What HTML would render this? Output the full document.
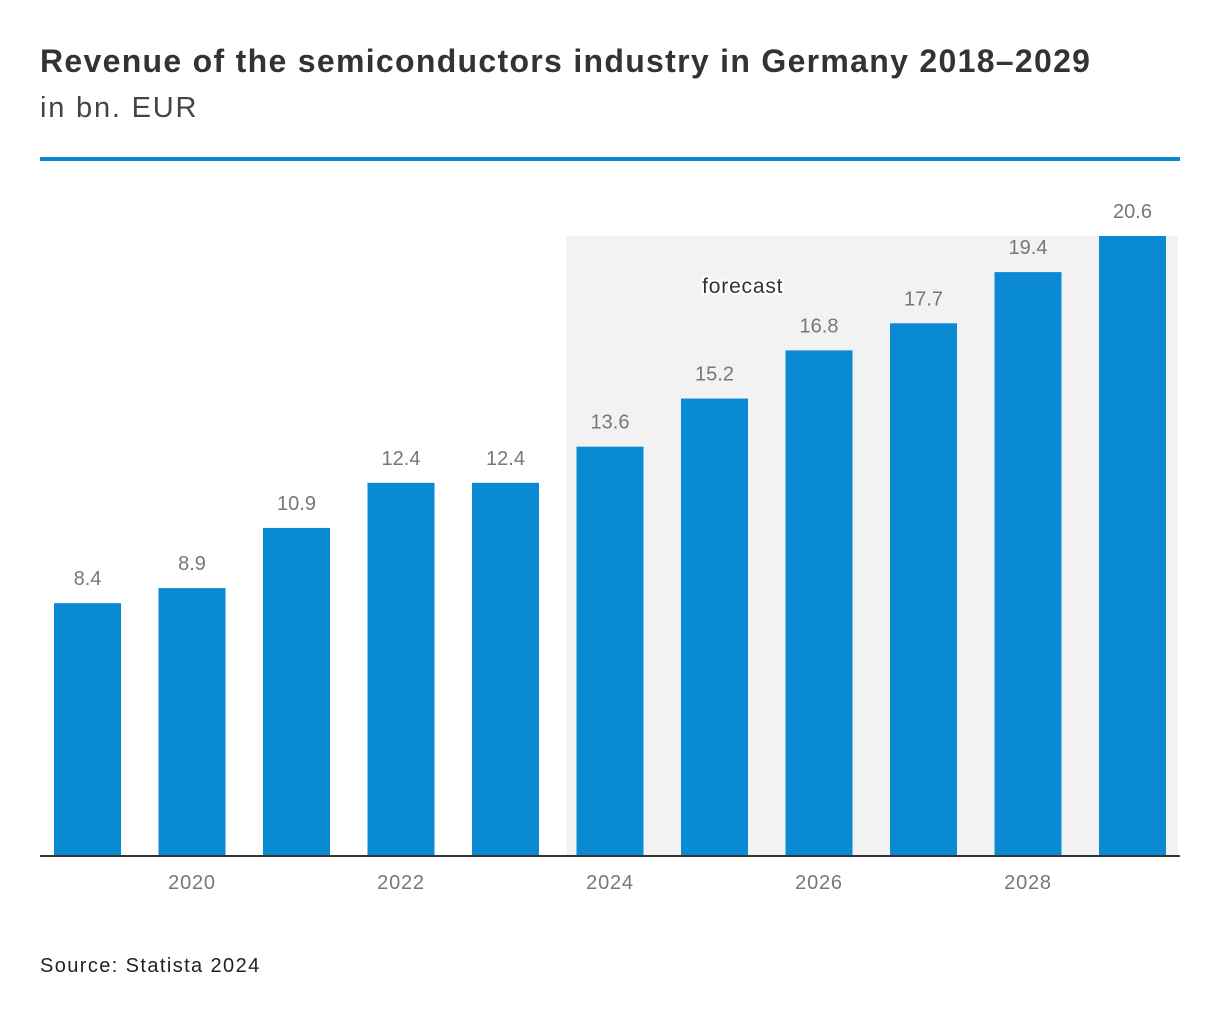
<!DOCTYPE html>
<html>
<head>
<meta charset="utf-8">
<style>
  html,body{margin:0;padding:0;background:#fff;}
  body{width:1220px;height:1022px;position:relative;overflow:hidden;font-family:"Liberation Sans",sans-serif;}
  .title{position:absolute;left:40px;top:43px;font-size:32px;letter-spacing:1.3px;font-weight:bold;color:#333;white-space:nowrap;}
  .subtitle{position:absolute;left:40px;top:92px;font-size:29px;letter-spacing:1.8px;color:#444;}
  .rule{position:absolute;left:40px;top:157px;width:1140px;height:4px;background:#0a87cf;}
  .source{position:absolute;left:40px;top:955px;font-size:20px;letter-spacing:1.4px;color:#222;}
  svg{position:absolute;left:0;top:0;}
</style>
</head>
<body>
<div class="title">Revenue of the semiconductors industry in Germany 2018–2029</div>
<div class="subtitle">in bn. EUR</div>
<div class="rule"></div>
<svg id="chart" width="1220" height="1022"></svg>
<div class="source">Source: Statista 2024</div>
<script>
const years = [2019,2020,2021,2022,2023,2024,2025,2026,2027,2028,2029];
const values = [8.4,8.9,10.9,12.4,12.4,13.6,15.2,16.8,17.7,19.4,20.6];
const tickYears = [2020,2022,2024,2026,2028];
const forecastStart = 2024;

const svg = document.getElementById('chart');
const NS = 'http://www.w3.org/2000/svg';
const baseY = 856, pxPerUnit = 620/20.6;
const firstCenter = 87.5, step = 104.5, barW = 67;
function xC(year){ return firstCenter + (year - years[0]) * step; }
function yV(v){ return baseY - v * pxPerUnit; }
function mk(tag, attrs){ const e=document.createElementNS(NS,tag); for(const k in attrs) e.setAttribute(k,attrs[k]); svg.appendChild(e); return e; }

const fx = xC(forecastStart) - barW/2 - 10;
const topY = yV(Math.max(...values));
const fbg = mk('rect',{x:fx,y:topY,width:1178-fx,height:baseY-topY,fill:'#f2f2f2'});


const flx = xC(forecastStart) + step*1.27;
const fl = mk('text',{x:flx,y:293,'text-anchor':'middle','font-size':21,'letter-spacing':0.8,fill:'#333',stroke:'#fff','stroke-width':4,'paint-order':'stroke','font-family':'Liberation Sans, sans-serif'});
fl.textContent='forecast';



years.forEach((yr,i)=>{
  const v = values[i];
  const b = mk('rect',{x:xC(yr)-barW/2,y:yV(v),width:barW,height:baseY-yV(v),fill:'#0a8ad2'});
  
  
  const t = mk('text',{x:xC(yr),y:yV(v)-18,'text-anchor':'middle','font-size':20,fill:'#777','font-family':'Liberation Sans, sans-serif'});
  t.textContent = v.toFixed(1);
  
  
});

const ax = mk('line',{x1:40,x2:1180,y1:baseY,y2:baseY,stroke:'#333','stroke-width':2});



tickYears.forEach(yr=>{
  const t = mk('text',{x:xC(yr),y:889,'text-anchor':'middle','font-size':20,'letter-spacing':0.8,fill:'#777','font-family':'Liberation Sans, sans-serif'});
  t.textContent = yr;
  
  
});
</script>
</body>
</html>
